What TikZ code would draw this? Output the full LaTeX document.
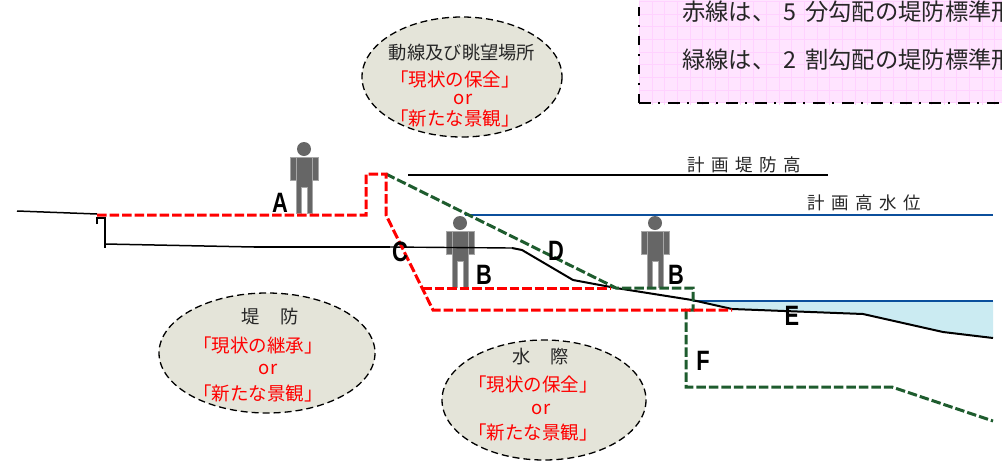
\documentclass[tikz,border=0pt]{standalone}
\usepackage{fontspec}
\setmainfont{Noto Sans CJK JP}
\newfontfamily\latinfont{Liberation Sans}
\definecolor{dred}{HTML}{FF0000}
\definecolor{dgreen}{HTML}{1E5C2E}
\definecolor{dblue}{HTML}{0B4F9C}
\definecolor{water}{HTML}{CBEBF2}
\definecolor{ellfill}{HTML}{E4E4D9}
\definecolor{boxfill}{HTML}{FFE4FF}
\definecolor{boxgrid}{HTML}{FFD2FF}
\definecolor{persongray}{HTML}{666666}
\newcommand{\fsz}[1]{\fontsize{#1}{#1}\selectfont}
\tikzset{
  x=1pt,y=-1pt,
  reddash/.style={draw=dred,line width=3pt,dash pattern=on 9.5pt off 3pt},
  greendash/.style={draw=dgreen,line width=3pt,dash pattern=on 9.5pt off 3pt},
  blueline/.style={draw=dblue,line width=1.8pt},
  bubble/.style={draw=black,fill=ellfill,line width=1.3pt,dash pattern=on 7pt off 4pt},
  blacktxt/.style={inner sep=0pt,text=black!85,font=\fsz{18.3}},
  redtxt/.style={inner sep=0pt,text=dred,font=\fsz{18.5}},
  lettr/.style={inner sep=0pt,text=black,xscale=.78,font=\latinfont\bfseries\fsz{28}},
  heighttxt/.style={inner sep=0pt,text=black!85,font=\fsz{17.5}\addfontfeature{LetterSpace=37}},
  boxtxt/.style={inner sep=0pt,anchor=west,text=black!85,font=\fsz{23.3}},
  person/.pic={
    \fill[persongray] (0,-64) circle (7);
    \path[fill=persongray,draw=black!35,line width=.7pt]
      (-14,-56) rectangle (-8,-33) (8,-56) rectangle (14,-33)
      (-8,-56) -- (8,-56) -- (8,0) -- (3,0) -- (3,-26) -- (-3,-26) -- (-3,0) -- (-8,0) -- cycle;
  }
}
\begin{document}
\begin{tikzpicture}
\useasboundingbox (0,0) rectangle (1002,461);
\clip (0,0) rectangle (1002,461);
% note box
\fill[boxfill] (639,-20) rectangle (1020,103);
\draw[boxgrid,line width=.4pt,xshift=639pt,yshift=-1pt,step=12.7pt] (0,0) grid (370,104);
\draw[black,line width=2.4pt,dash pattern=on 9pt off 9pt on 2pt off 9pt] (639,103) -- (639,-20);
\draw[black,line width=2.4pt,dash pattern=on 12pt off 7pt on 2pt off 8pt] (639,103) -- (1020,103);
\node[boxtxt] (note1) at (682,12) {赤線は、\hspace{8pt}5\hspace{9pt}分勾配の堤防標準形};
\node[boxtxt] (note2) at (682,60) {緑線は、\hspace{8pt}2\hspace{9pt}割勾配の堤防標準形};
% water
\fill[water] (693,301) -- (993,301) -- (993,338) -- (943,332) -- (863,314) -- (732,309) -- cycle;
% level lines
\draw[black,line width=1.2pt] (408,175) -- (828,175);
\draw[blueline] (465,215) -- (993,215);
\draw[blueline] (693,301) -- (993,301);
% persons
\pic at (304,213) {person};
\pic at (460,287) {person};
\pic at (655,287) {person};
% ground
\draw[black,line width=1.5pt] (17,211) -- (97,214);
\draw[black,line width=2.6pt] (97,224) -- (97,218) -- (105,218) -- (105,248);
\draw[black,line width=1.5pt] (105,244) -- (254,247);
\draw[black,line width=2.2pt] (254,247) -- (390,247);
\draw[black,line width=1.4pt] (390,247) -- (512,248);
\draw[black,line width=2pt] (512,248) -- (522,250) -- (573,280) -- (616,288) -- (692,300) -- (732,309) -- (863,314) -- (943,332) -- (993,338);
% design lines
\draw[greendash] (386,174) -- (616,288) -- (693,288) -- (693,310) -- (686,310) -- (686,387) -- (892,387) -- (993,421);
\draw[reddash] (97,215) -- (366,215) -- (366,174) -- (386,174) -- (386,215) -- (433,310) -- (732,310);
\draw[reddash] (422,288) -- (610,288);
% letters
\node[lettr] (la) at (280,203) {A};
\node[lettr] (lb1) at (484,275) {B};
\node[lettr] (lb2) at (676,275) {B};
\node[lettr] (lc) at (400,252) {C};
\node[lettr] (ld) at (556,251) {D};
\node[lettr] (le) at (792,316) {E};
\node[lettr] (lf) at (703,361) {F};
% height labels
\node[heighttxt] (plan1) at (744,165) {計画堤防高};
\node[heighttxt] (plan2) at (864,203) {計画高水位};
% bubbles
\draw[bubble] (462,77) ellipse (100 and 60);
\node[blacktxt] (t1) at (462,53) {動線及び眺望場所};
\node[redtxt] (t2) at (455,79) {「現状の保全」};
\node[redtxt] (t3) at (463,99) {or};
\node[redtxt] (t4) at (455,118) {「新たな景観」};
\draw[bubble] (267,353) ellipse (108 and 60);
\node[blacktxt] (l1) at (270,317) {堤\hspace{21pt}防};
\node[redtxt] (l2) at (258,345) {「現状の継承」};
\node[redtxt] (l3) at (268,369) {or};
\node[redtxt] (l4) at (258,393) {「新たな景観」};
\draw[bubble] (544,400) ellipse (102 and 60);
\node[blacktxt] (b1) at (541,357) {水\hspace{20pt}際};
\node[redtxt] (b2) at (533,384) {「現状の保全」};
\node[redtxt] (b3) at (541,409) {or};
\node[redtxt] (b4) at (533,432) {「新たな景観」};
\end{tikzpicture}
\end{document}
